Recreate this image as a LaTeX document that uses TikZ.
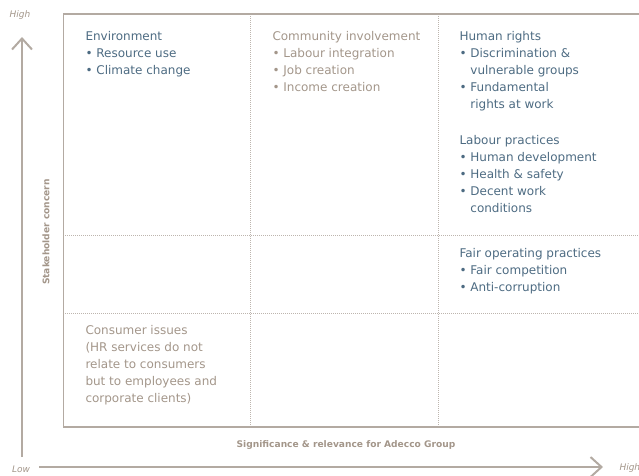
\documentclass[tikz,border=0pt]{standalone}
\usepackage{fontspec}
\setmainfont{DejaVu Sans}
\usetikzlibrary{arrows.meta,positioning}

\definecolor{adblue}{HTML}{4D6B82}
\definecolor{adgrey}{HTML}{A3968A}
\definecolor{adline}{HTML}{B3AAA2}
\definecolor{addots}{HTML}{BDB5AE}

\newcommand{\bul}{\textbullet\ }
\newcommand{\hang}{\phantom{\textbullet\ }}

\tikzset{
  cell/.style={anchor=north west, align=left, inner sep=0pt,
    font=\fontsize{12}{17}\selectfont},
  axislabel/.style={inner sep=0pt, text=adgrey,
    font=\fontsize{9.1}{11}\selectfont\bfseries},
  endlabel/.style={inner sep=0pt, text=adgrey,
    font=\fontsize{9}{11}\selectfont\itshape},
  gridline/.style={addots, line width=0.6pt, dash pattern=on 0.6pt off 1.4pt},
}

\begin{document}
\begin{tikzpicture}[
  x=1pt, y=-1pt,
  >={Straight Barb[length=11pt,width=20pt,line width=2pt]},
  line width=1pt,
]
\useasboundingbox (0,0) rectangle (639,475);

% grid
\foreach \x in {250,438} {
  \draw[gridline] (\x,14) -- (\x,427);
}
\foreach \y in {235,313} {
  \draw[gridline] (63,\y) -- (639,\y);
}
\draw[adline, line width=2pt] (63,14) -- (639,14);
\draw[adline] (63,14) -- (63,427);
\draw[adline, line width=1.3pt] (63,427) -- (639,427);

% axes
\coordinate (ybot) at (22,457);
\coordinate (ytop) at (22,37);
\coordinate (xleft) at (39,467);
\coordinate (xright) at (603,467);
\draw[adline, line width=2pt, ->] (ybot) -- (ytop);
\draw[adline, line width=2pt, ->] (xleft) -- (xright);

\node[endlabel] (yhigh) at (20,15) {High};
\node[endlabel] (ylow) at (21,469) {Low};
\node[endlabel, anchor=west] (xhigh) at (619,468) {High};

\node[axislabel, rotate=90] (ylabel) at (46,232) {Stakeholder concern};
\node[axislabel] (xlabel) at (346,445) {Significance \& relevance for Adecco Group};

% cells
\node[cell, text=adblue] (environment) at (85,31) {Environment\\
  \bul Resource use\\
  \bul Climate change};
\node[cell, text=adgrey] (community) at (272,31) {Community involvement\\
  \bul Labour integration\\
  \bul Job creation\\
  \bul Income creation};
\node[cell, text=adblue] (humanrights) at (459,31) {Human rights\\
  \bul Discrimination \&\\
  \hang vulnerable groups\\
  \bul Fundamental\\
  \hang rights at work};
\node[cell, text=adblue] (labour) at (459,135) {Labour practices\\
  \bul Human development\\
  \bul Health \& safety\\
  \bul Decent work\\
  \hang conditions};
\node[cell, text=adblue] (fairop) at (459,248) {Fair operating practices\\
  \bul Fair competition\\
  \bul Anti-corruption};
\node[cell, text=adgrey] (consumer) at (85,325) {Consumer issues\\
  (HR services do not\\
  relate to consumers\\
  but to employees and\\
  corporate clients)};

\end{tikzpicture}
\end{document}
